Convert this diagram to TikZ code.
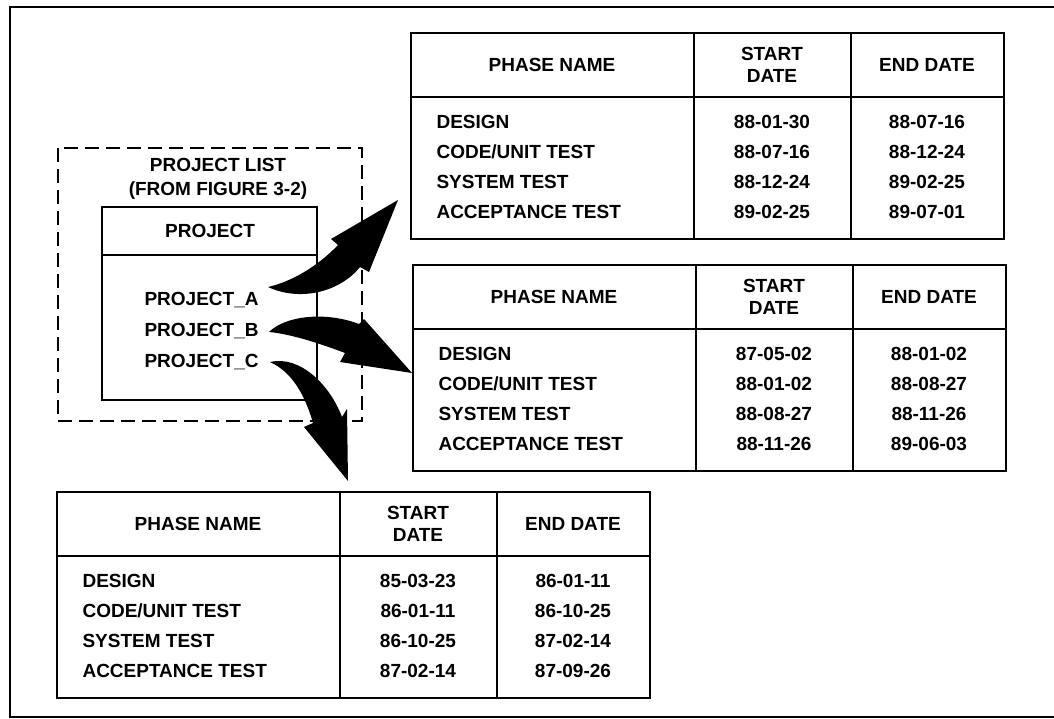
\documentclass[tikz,border=0pt]{standalone}
\usepackage{fontspec}
\setmainfont{Liberation Sans}
\begin{document}
\begin{tikzpicture}[x=1pt,y=-1pt,
  every node/.style={font=\fontsize{19}{22}\selectfont\bfseries},
  rule/.style={line width=2.2pt}]
\useasboundingbox (0,0) rectangle (1054,719);

% outer frame
\draw[line width=2.5pt] (1060,7) -- (10,7) -- (10,717) -- (1060,717);

% project list
\draw[line width=2.5pt,dash pattern=on 14pt off 7pt] (58,148) rectangle (362,421);
\node (plist) at (218,165) {PROJECT LIST};
\node (pfig) at (218,191) {(FROM FIGURE 3-2)};
\draw[rule] (102,207) rectangle (317,400);
\draw[rule] (102,255) -- (317,255);
\node (proj) at (210,231) {PROJECT};
\node[anchor=west] (pa) at (141,300) {PROJECT\_A};
\node[anchor=west] (pb) at (141,331) {PROJECT\_B};
\node[anchor=west] (pc) at (141,362) {PROJECT\_C};

\coordinate (ta) at (268,287);
\coordinate (tb) at (269,332);
\coordinate (tc) at (270,362);

% arrows
\fill (ta) .. controls (290,282) and (316,268) .. (338,245) -- (331,239) -- (398,200)
  -- (369,272) -- (360,267) .. controls (340,292) and (300,302) .. (ta) -- cycle;
\fill (tb) .. controls (285,316) and (325,311) .. (359,324) -- (364,319) -- (412,373)
  -- (340,362) -- (345,353) .. controls (324,345) and (292,334) .. (tb) -- cycle;
\fill (tc) .. controls (300,355) and (330,385) .. (342,417) -- (347,409) -- (348,481)
  -- (304,427) -- (313,423) .. controls (305,395) and (292,372) .. (tc) -- cycle;

% table for PROJECT_A
\begin{scope}[shift={(411,33)}]
\draw[rule] (0,0) rectangle (593,206);
\draw[rule] (0,64) -- (593,64);
\draw[rule] (283,0) -- (283,206);
\draw[rule] (440,0) -- (440,206);
\node (t1name) at (141,32) {PHASE NAME};
\node[align=center] (t1start) at (361,32) {START\\DATE};
\node (t1end) at (516,32) {END DATE};
\node[anchor=west] (t1p1) at (22,89) {DESIGN};
\node[anchor=west] (t1p2) at (22,119) {CODE/UNIT TEST};
\node[anchor=west] (t1p3) at (22,149) {SYSTEM TEST};
\node[anchor=west] (t1p4) at (22,179) {ACCEPTANCE TEST};
\node (t1s1) at (361,89) {88-01-30};
\node (t1s2) at (361,119) {88-07-16};
\node (t1s3) at (361,149) {88-12-24};
\node (t1s4) at (361,179) {89-02-25};
\node (t1e1) at (516,89) {88-07-16};
\node (t1e2) at (516,119) {88-12-24};
\node (t1e3) at (516,149) {89-02-25};
\node (t1e4) at (516,179) {89-07-01};
\end{scope}

% table for PROJECT_B
\begin{scope}[shift={(413,265)}]
\draw[rule] (0,0) rectangle (593,206);
\draw[rule] (0,64) -- (593,64);
\draw[rule] (283,0) -- (283,206);
\draw[rule] (440,0) -- (440,206);
\node (t2name) at (141,32) {PHASE NAME};
\node[align=center] (t2start) at (361,32) {START\\DATE};
\node (t2end) at (516,32) {END DATE};
\node[anchor=west] (t2p1) at (22,89) {DESIGN};
\node[anchor=west] (t2p2) at (22,119) {CODE/UNIT TEST};
\node[anchor=west] (t2p3) at (22,149) {SYSTEM TEST};
\node[anchor=west] (t2p4) at (22,179) {ACCEPTANCE TEST};
\node (t2s1) at (361,89) {87-05-02};
\node (t2s2) at (361,119) {88-01-02};
\node (t2s3) at (361,149) {88-08-27};
\node (t2s4) at (361,179) {88-11-26};
\node (t2e1) at (516,89) {88-01-02};
\node (t2e2) at (516,119) {88-08-27};
\node (t2e3) at (516,149) {88-11-26};
\node (t2e4) at (516,179) {89-06-03};
\end{scope}

% table for PROJECT_C
\begin{scope}[shift={(57,492)}]
\draw[rule] (0,0) rectangle (593,206);
\draw[rule] (0,64) -- (593,64);
\draw[rule] (283,0) -- (283,206);
\draw[rule] (440,0) -- (440,206);
\node (t3name) at (141,32) {PHASE NAME};
\node[align=center] (t3start) at (361,32) {START\\DATE};
\node (t3end) at (516,32) {END DATE};
\node[anchor=west] (t3p1) at (22,89) {DESIGN};
\node[anchor=west] (t3p2) at (22,119) {CODE/UNIT TEST};
\node[anchor=west] (t3p3) at (22,149) {SYSTEM TEST};
\node[anchor=west] (t3p4) at (22,179) {ACCEPTANCE TEST};
\node (t3s1) at (361,89) {85-03-23};
\node (t3s2) at (361,119) {86-01-11};
\node (t3s3) at (361,149) {86-10-25};
\node (t3s4) at (361,179) {87-02-14};
\node (t3e1) at (516,89) {86-01-11};
\node (t3e2) at (516,119) {86-10-25};
\node (t3e3) at (516,149) {87-02-14};
\node (t3e4) at (516,179) {87-09-26};
\end{scope}
\end{tikzpicture}
\end{document}
